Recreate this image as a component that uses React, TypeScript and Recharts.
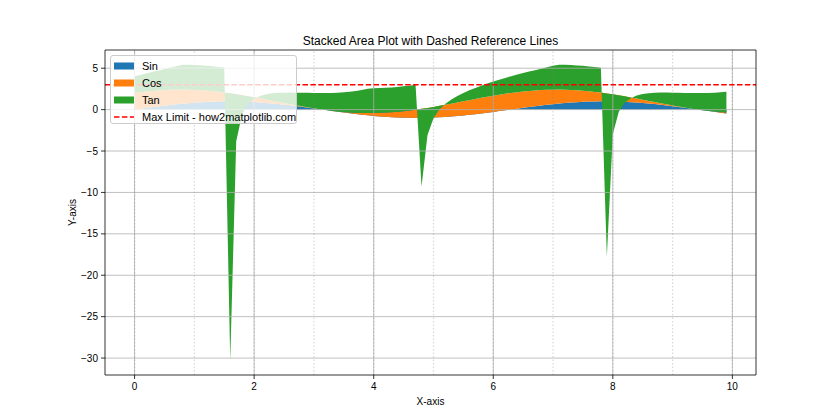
import React from 'react';
import { ComposedChart, Area, XAxis, YAxis, ReferenceLine, Label } from 'recharts';

const xValues = [
  0, 0.1, 0.2, 0.3, 0.4, 0.5, 0.6, 0.7, 0.8, 0.9,
  1.0, 1.1, 1.2, 1.3, 1.4, 1.5, 1.6, 1.7, 1.8, 1.9,
  2.0, 2.1, 2.2, 2.3, 2.4, 2.5, 2.6, 2.7, 2.8, 2.9,
  3.0, 3.1, 3.2, 3.3, 3.4, 3.5, 3.6, 3.7, 3.8, 3.9,
  4.0, 4.1, 4.2, 4.3, 4.4, 4.5, 4.6, 4.7, 4.8, 4.9,
  5.0, 5.1, 5.2, 5.3, 5.4, 5.5, 5.6, 5.7, 5.8, 5.9,
  6.0, 6.1, 6.2, 6.3, 6.4, 6.5, 6.6, 6.7, 6.8, 6.9,
  7.0, 7.1, 7.2, 7.3, 7.4, 7.5, 7.6, 7.7, 7.8, 7.9,
  8.0, 8.1, 8.2, 8.3, 8.4, 8.5, 8.6, 8.7, 8.8, 8.9,
  9.0, 9.1, 9.2, 9.3, 9.4, 9.5, 9.6, 9.7, 9.8, 9.9,
];

const sinValues = [
  0, 0.100, 0.199, 0.296, 0.389, 0.479, 0.565, 0.644, 0.717, 0.783,
  0.841, 0.891, 0.932, 0.964, 0.985, 0.997, 1.000, 0.992, 0.974, 0.946,
  0.909, 0.863, 0.808, 0.746, 0.675, 0.598, 0.516, 0.427, 0.335, 0.239,
  0.141, 0.042, -0.058, -0.158, -0.256, -0.351, -0.443, -0.530, -0.612, -0.688,
  -0.757, -0.818, -0.872, -0.916, -0.952, -0.978, -0.994, -1.000, -0.996, -0.982,
  -0.959, -0.926, -0.883, -0.832, -0.773, -0.706, -0.631, -0.551, -0.465, -0.374,
  -0.279, -0.182, -0.083, 0.017, 0.117, 0.215, 0.312, 0.405, 0.494, 0.578,
  0.657, 0.729, 0.794, 0.850, 0.899, 0.938, 0.968, 0.988, 0.999, 0.999,
  0.989, 0.970, 0.941, 0.902, 0.855, 0.799, 0.734, 0.663, 0.585, 0.501,
  0.412, 0.319, 0.223, 0.125, 0.025, -0.075, -0.174, -0.272, -0.367, -0.458,
];

const cosValues = [
  2.000, 1.995, 1.980, 1.955, 1.921, 1.878, 1.825, 1.765, 1.697, 1.622,
  1.540, 1.454, 1.362, 1.268, 1.170, 1.071, 0.971, 0.871, 0.773, 0.677,
  0.584, 0.495, 0.412, 0.334, 0.263, 0.199, 0.143, 0.096, 0.058, 0.029,
  0.010, 0.001, 0.002, 0.013, 0.033, 0.064, 0.103, 0.152, 0.209, 0.274,
  0.346, 0.425, 0.510, 0.599, 0.693, 0.789, 0.888, 0.988, 1.088, 1.187,
  1.284, 1.378, 1.469, 1.554, 1.635, 1.709, 1.776, 1.835, 1.886, 1.928,
  1.960, 1.983, 1.997, 2.000, 1.993, 1.977, 1.950, 1.914, 1.869, 1.816,
  1.754, 1.685, 1.608, 1.526, 1.439, 1.347, 1.251, 1.153, 1.054, 0.954,
  0.855, 0.757, 0.661, 0.569, 0.481, 0.398, 0.321, 0.251, 0.189, 0.135,
  0.089, 0.052, 0.025, 0.008, 0.000, 0.003, 0.015, 0.038, 0.070, 0.111,
];

const tanValues = [
  2.000, 2.100, 2.203, 2.309, 2.423, 2.546, 2.684, 2.842, 3.000, 3.000,
  3.000, 3.000, 3.000, 3.000, 3.000, 3.000, -32.232, -5.697, -2.286, -0.927,
  -0.185, 0.290, 0.626, 0.881, 1.084, 1.253, 1.398, 1.527, 1.644, 1.754,
  1.858, 1.958, 2.058, 2.160, 2.264, 2.375, 2.494, 2.625, 2.774, 2.947,
  3.000, 3.000, 3.000, 3.000, 3.000, 3.000, 3.000, 3.000, -9.385, -3.267,
  -1.381, -0.449, 0.114, 0.499, 0.782, 1.004, 1.186, 1.340, 1.475, 1.597,
  1.709, 1.815, 1.917, 2.017, 2.117, 2.220, 2.328, 2.443, 2.568, 2.709,
  2.871, 3.000, 3.000, 3.000, 3.000, 3.000, 3.000, 3.000, 3.000, -19.716,
  -4.800, -1.983, -0.773, -0.091, 0.354, 0.674, 0.918, 1.114, 1.279, 1.421,
  1.548, 1.663, 1.771, 1.874, 1.975, 2.075, 2.177, 2.282, 2.394, 2.515,
];

const xTicks = [0, 2, 4, 6, 8, 10];
const yTicks = [-30, -25, -20, -15, -10, -5, 0, 5];
const xMarkers = [0, 1, 2, 3, 4, 5, 6, 7, 8, 9, 10];
const maxLimit = 3;
const X_DOMAIN: [number, number] = [-0.495, 10.395];
const Y_DOMAIN: [number, number] = [-32.045, 7.198];

const FONT = "'Liberation Sans', Arial, sans-serif";
const BLUE = '#1f77b4';
const ORANGE = '#ff7f0e';
const GREEN = '#2ca02c';

const legendItems = [
  { label: 'Sin', color: BLUE, kind: 'patch' },
  { label: 'Cos', color: ORANGE, kind: 'patch' },
  { label: 'Tan', color: GREEN, kind: 'patch' },
  { label: 'Max Limit - how2matplotlib.com', color: '#ff0000', kind: 'line' },
];

const fmt = (v: number) => String(v).replace('-', '\u2212');

export default function App() {
  const data = xValues.map((x, i) => ({
    x,
    sin: sinValues[i],
    cos: cosValues[i],
    tan: tanValues[i],
  }));

  return (
    <div
      style={{
        position: 'absolute',
        left: 0,
        top: 0,
        width: 840,
        height: 420,
        background: '#ffffff',
        fontFamily: FONT,
      }}
    >
      <div style={{ position: 'absolute', left: 0, top: 0 }}>
        <ComposedChart
          width={840}
          height={420}
          data={data}
          margin={{ top: 50, right: 84, bottom: 0, left: 0 }}
          style={{ fontFamily: FONT }}
        >
          <XAxis
            dataKey="x"
            type="number"
            domain={X_DOMAIN}
            ticks={xTicks}
            interval={0}
            allowDataOverflow
            height={45}
            tickSize={4}
            tickMargin={4}
            stroke="#000"
            strokeWidth={0.8}
            tick={{ fill: '#000', fontSize: 10, fontFamily: FONT }}
          >
            <Label
              value="X-axis"
              position="insideBottom"
              offset={15}
              style={{ fill: '#000', fontSize: 10, fontFamily: FONT }}
            />
          </XAxis>
          <YAxis
            type="number"
            domain={Y_DOMAIN}
            ticks={yTicks}
            interval={0}
            allowDataOverflow
            width={105}
            tickSize={4}
            tickMargin={3}
            stroke="#000"
            strokeWidth={0.8}
            tickFormatter={fmt}
            tick={{ fill: '#000', fontSize: 10, fontFamily: FONT }}
          >
            <Label
              value="Y-axis"
              angle={-90}
              position="insideLeft"
              offset={72}
              style={{ fill: '#000', fontSize: 10, fontFamily: FONT, textAnchor: 'middle' }}
            />
          </YAxis>

          <Area
            type="linear"
            dataKey="sin"
            stackId="s"
            fill={BLUE}
            fillOpacity={1}
            stroke="none"
            dot={false}
            activeDot={false}
            isAnimationActive={false}
          />
          <Area
            type="linear"
            dataKey="cos"
            stackId="s"
            fill={ORANGE}
            fillOpacity={1}
            stroke="none"
            dot={false}
            activeDot={false}
            isAnimationActive={false}
          />
          <Area
            type="linear"
            dataKey="tan"
            stackId="s"
            fill={GREEN}
            fillOpacity={1}
            stroke="none"
            dot={false}
            activeDot={false}
            isAnimationActive={false}
          />

          {yTicks.map((v) => (
            <ReferenceLine key={`gy${v}`} y={v} stroke="#b0b0b0" strokeWidth={0.8} ifOverflow="visible" />
          ))}
          {xTicks.map((v) => (
            <ReferenceLine key={`gx${v}`} x={v} stroke="#b0b0b0" strokeWidth={0.8} ifOverflow="visible" />
          ))}
          {xMarkers.map((v) => (
            <ReferenceLine
              key={`m${v}`}
              x={v}
              stroke="#808080"
              strokeOpacity={0.3}
              strokeWidth={1.2}
              strokeDasharray="1.5 2"
              ifOverflow="visible"
            />
          ))}
          <ReferenceLine
            y={maxLimit}
            stroke="#ff0000"
            strokeWidth={1.5}
            strokeDasharray="5.5 2.4"
            ifOverflow="visible"
          />
          <ReferenceLine y={Y_DOMAIN[1]} stroke="#000" strokeWidth={0.8} ifOverflow="visible" />
          <ReferenceLine x={X_DOMAIN[1]} stroke="#000" strokeWidth={0.8} ifOverflow="visible" />
        </ComposedChart>
      </div>

      <div
        style={{
          position: 'absolute',
          left: 105,
          top: 33,
          width: 651,
          textAlign: 'center',
          fontSize: 12,
          lineHeight: '16px',
          color: '#000',
        }}
      >
        Stacked Area Plot with Dashed Reference Lines
      </div>

      <div
        style={{
          position: 'absolute',
          left: 110,
          top: 55,
          width: 187,
          height: 69,
          background: 'rgba(255,255,255,0.8)',
          border: '1px solid #cccccc',
          borderRadius: 3,
          paddingTop: 1,
          boxSizing: 'border-box',
        }}
      >
        {legendItems.map((it) => (
          <div
            key={it.label}
            style={{ display: 'flex', alignItems: 'center', height: 17, fontSize: 11, color: '#000' }}
          >
            <svg width={20} height={8} style={{ marginLeft: 3, marginRight: 8, flex: 'none' }}>
              {it.kind === 'patch' ? (
                <rect x={0} y={0.5} width={20} height={7} fill={it.color} />
              ) : (
                <line x1={0} y1={4} x2={20} y2={4} stroke={it.color} strokeWidth={1.5} strokeDasharray="5.5 2.4" />
              )}
            </svg>
            <span style={{ whiteSpace: 'nowrap' }}>{it.label}</span>
          </div>
        ))}
      </div>
    </div>
  );
}
